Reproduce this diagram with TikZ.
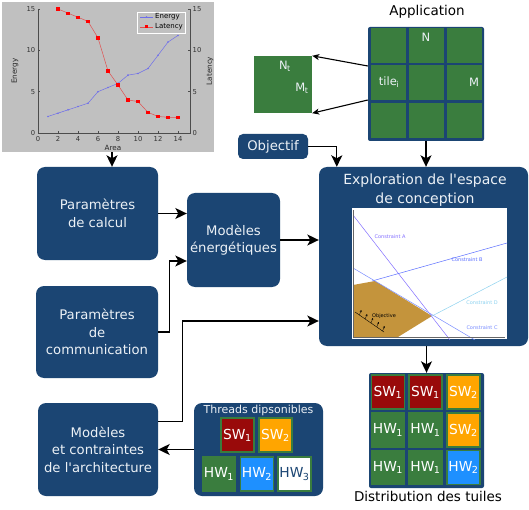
\documentclass[tikz,border=0pt]{standalone}
\usepackage{fontspec}
\setmainfont{DejaVu Sans}
\usetikzlibrary{arrows.meta,calc}
\definecolor{dblue}{RGB}{27,69,115}
\definecolor{boxtext}{RGB}{236,241,246}
\definecolor{cgreen}{RGB}{58,125,62}
\definecolor{cred}{RGB}{153,10,10}
\definecolor{corange}{RGB}{255,165,0}
\definecolor{cblue}{RGB}{30,144,255}
\definecolor{chartgray}{RGB}{192,192,192}
\definecolor{enblue}{RGB}{110,110,235}
\definecolor{latred}{RGB}{225,80,80}
\definecolor{cA}{RGB}{130,110,255}
\definecolor{cB}{RGB}{90,110,255}
\definecolor{cC}{RGB}{120,140,255}
\definecolor{cD}{RGB}{140,210,240}
\definecolor{brown}{RGB}{196,148,60}
\newcommand{\mysub}[1]{\kern-0.5pt\textsubscript{#1}}
\begin{document}
\begin{tikzpicture}[x=1pt,y=-1pt,
  box/.style={fill=dblue, rounded corners=8pt, text=boxtext, align=center, inner sep=0pt,
    font=\fontsize{13.2}{17.5}\selectfont},
  arr/.style={line width=1.3pt, -{Stealth[length=11.5pt,width=11pt,inset=3pt]}},
  cell/.style={minimum width=33pt, minimum height=34pt, inner sep=0pt, draw=cgreen, line width=1.5pt,
    text=white, font=\fontsize{13.8}{14}\selectfont},
  gcell/.style={fill=cgreen, minimum width=35pt, minimum height=35pt, inner sep=0pt},
  lbl/.style={text=black, font=\fontsize{13.5}{16}\selectfont, inner sep=0pt},
  tick/.style={font=\fontsize{6.8}{7}\selectfont, text=black!80, inner sep=0pt},
  clab/.style={font=\fontsize{5}{5}\selectfont, inner sep=0pt}
]
\useasboundingbox (0,0) rectangle (529,510);

% ---------------- chart ----------------
\node[fill=chartgray, minimum width=212pt, minimum height=150pt, inner sep=0pt] (chart) at (108,77) {};
\begin{scope}[shift={(38pt,-133pt)}, x=10pt, y=8.267pt]
  \draw[black!70, line width=0.5pt] (0,15) -- (0,0) -- (15.2,0) -- (15.2,15);
  \foreach \v in {0,5,10,15} {
    \draw[black!70, line width=0.4pt] (0,\v) -- (0.2,\v);
    \draw[black!70, line width=0.4pt] (15.2,\v) -- (15.0,\v);
    \node[tick, anchor=east] at (-0.25,\v) {\v};
    \node[tick, anchor=west] at (15.45,\v) {\v};
  }
  \foreach \v in {0,2,...,14} {
    \draw[black!70, line width=0.4pt] (\v,0) -- (\v,0.25);
    \node[tick, anchor=north] at (\v,-0.35) {\v};
  }
  \draw[enblue, line width=0.5pt] plot coordinates {(1,2) (2,2.4) (3,2.8) (4,3.2) (5,3.6) (6,5) (7,5.5) (8,6) (9,7) (10,7.2) (11,7.8) (12,9.4) (13,11) (14,11.8)};
  \foreach \p in {(1,2),(2,2.4),(3,2.8),(4,3.2),(5,3.6),(6,5),(7,5.5),(8,6),(9,7),(10,7.2),(11,7.8),(12,9.4),(13,11),(14,11.8)}
    \fill[enblue] \p circle (0.9pt);
  \draw[latred, line width=0.5pt] plot coordinates {(2,15) (3,14.5) (4,14) (5,13.5) (6,11.5) (7,7.5) (8,5.8) (9,4) (10,3.8) (11,2.5) (12,2) (13,1.9) (14,1.9)};
  \foreach \p in {(2,15),(3,14.5),(4,14),(5,13.5),(6,11.5),(7,7.5),(8,5.8),(9,4),(10,3.8),(11,2.5),(12,2),(13,1.9),(14,1.9)}
    \fill[red] \p ++(-1.6pt,-1.6pt) rectangle ++(3.2pt,3.2pt);
\end{scope}
\node[draw=white, line width=0.8pt, fill=chartgray, minimum width=48pt, minimum height=21pt, inner sep=0pt] (legend) at (161,22.5) {};
\draw[enblue, line width=0.5pt] (140,17) -- (153,17);
\fill[enblue] (146.5,17) circle (0.9pt);
\draw[latred, line width=0.5pt] (140,27) -- (153,27);
\fill[red] (145,25.5) rectangle (148,28.5);
\node[font=\fontsize{7}{7}\selectfont, anchor=west, inner sep=0pt] (legE) at (155,17) {Energy};
\node[font=\fontsize{7}{7}\selectfont, anchor=west, inner sep=0pt] (legL) at (155,27) {Latency};
\node[font=\fontsize{7.2}{7}\selectfont, rotate=90, inner sep=0pt, text=black!85] (ylab) at (15,71) {Energy};
\node[font=\fontsize{7.2}{7}\selectfont, rotate=90, inner sep=0pt, text=black!85] (y2lab) at (210,71) {Latency};
\node[font=\fontsize{7.2}{7}\selectfont, inner sep=0pt, text=black!85] (xlab) at (113,148) {Area};

% ---------------- application ----------------
\node[lbl] (apptitle) at (427,12) {Application};
\node[fill=dblue, rounded corners=2pt, minimum width=116pt, minimum height=114pt, inner sep=0pt] (app) at (426,84) {};
\foreach \cx [count=\i] in {388.5,426.5,464.5}
  \foreach \cy [count=\j] in {45.5,83,121}
    \node[gcell] (app-\j-\i) at (\cx,\cy) {};
\node[text=boxtext, font=\fontsize{11.5}{12}\selectfont, inner sep=0pt] (appN) at (426,37) {N};
\node[text=boxtext, font=\fontsize{11.5}{12}\selectfont, inner sep=0pt] (appT) at (389,82) {tile\mysub{i}};
\node[text=boxtext, font=\fontsize{11.5}{12}\selectfont, inner sep=0pt] (appM) at (474,82) {M};

\node[fill=cgreen, minimum width=58pt, minimum height=57pt, inner sep=0pt] (tile) at (283,84.5) {};
\node[text=boxtext, font=\fontsize{11.5}{12}\selectfont, inner sep=0pt] (tileN) at (285,66) {N\mysub{t}};
\node[text=boxtext, font=\fontsize{11.5}{12}\selectfont, inner sep=0pt] (tileM) at (302,88) {M\mysub{t}};

\node[box, rounded corners=5pt, minimum width=70pt, minimum height=25pt] (obj) at (273,146.5) {Objectif};

% ---------------- main boxes ----------------
\node[box, minimum width=121pt, minimum height=93pt] (calc) at (97.5,213.5) {Paramètres\\de calcul};
\node[box, minimum width=93pt, minimum height=94pt] (mod) at (233.5,240) {Modèles\\énergétiques};
\node[box, minimum width=122pt, minimum height=92pt] (comm) at (97,332) {Paramètres\\de\\communication};
\node[box, minimum width=120pt, minimum height=93pt] (archi) at (98,449.5) {Modèles\\et contraintes\\de l\textquotesingle architecture};

% ---------------- exploration ----------------
\node[box, minimum width=209pt, minimum height=179pt] (explo) at (423.5,256.5) {};
\node[text=boxtext, align=center, inner sep=0pt, font=\fontsize{14}{19}\selectfont] (explotitle) at (425,190) {Exploration de l\textquotesingle espace\\de conception};
\node[fill=white, minimum width=155pt, minimum height=131pt, inner sep=0pt] (dse) at (429.5,273.5) {};
\begin{scope}
  \clip (352,208) rectangle (507,339);
  \fill[brown] (353,285) -- (375,281) -- (432,316) -- (398,337) -- (353,337) -- cycle;
  \draw[cA, line width=0.5pt] (353,215) -- (450,340);
  \draw[cB, line width=0.5pt] (372,281) -- (507,243);
  \draw[cC, line width=0.5pt] (353,268) -- (475,340);
  \draw[cD, line width=0.5pt] (432,316) -- (507,277);
  \draw[black!60, line width=0.4pt] (353,210) -- (353,337) -- (505,337);
  \draw[black, line width=0.4pt] (355,312) -- (384,332);
  \foreach \t in {0.15,0.35,0.55,0.75,0.95}
    \draw[black, line width=0.3pt, -{Stealth[length=2pt,width=2pt]}] ($(355,312)!\t!(384,332)$) -- ++(2,-5);
\end{scope}
\node[clab, text=cA] (labA) at (390,237) {Constraint A};
\node[clab, text=cB] (labB) at (467,260) {Constraint B};
\node[clab, text=cD] (labD) at (482,303) {Constraint D};
\node[clab, text=cC] (labC) at (482,328) {Constraint C};
\node[clab, text=black] (labO) at (384,316) {Objective};

% ---------------- threads ----------------
\node[box, minimum width=129pt, minimum height=93pt] (threads) at (258.5,449.5) {};
\node[text=boxtext, inner sep=0pt, font=\fontsize{11}{12}\selectfont] (thtitle) at (258.5,410) {Threads dipsonibles};
\node[cell, fill=cred] (tSW1) at (237.5,435) {SW\mysub{1}};
\node[cell, fill=corange] (tSW2) at (275.5,435) {SW\mysub{2}};
\node[cell, fill=cgreen] (tHW1) at (219,474) {HW\mysub{1}};
\node[cell, fill=cblue] (tHW2) at (257,474) {HW\mysub{2}};
\node[cell, fill=white, text=dblue] (tHW3) at (294.5,474) {HW\mysub{3}};

% ---------------- distribution ----------------
\node[fill=dblue, rounded corners=2pt, minimum width=115pt, minimum height=115pt, inner sep=0pt] (dist) at (426.5,430.5) {};
\node[cell, fill=cred] (d11) at (388,392) {SW\mysub{1}};
\node[cell, fill=cred] (d12) at (425.5,392) {SW\mysub{1}};
\node[cell, fill=corange] (d13) at (463.5,392) {SW\mysub{2}};
\node[cell, fill=cgreen] (d21) at (388,430) {HW\mysub{1}};
\node[cell, fill=cgreen] (d22) at (425.5,430) {HW\mysub{1}};
\node[cell, fill=corange] (d23) at (463.5,430) {SW\mysub{2}};
\node[cell, fill=cgreen] (d31) at (388,467.5) {HW\mysub{1}};
\node[cell, fill=cgreen] (d32) at (425.5,467.5) {HW\mysub{1}};
\node[cell, fill=cblue] (d33) at (463.5,467.5) {HW\mysub{2}};
\node[lbl] (disttitle) at (428,496) {Distribution des tuiles};

% ---------------- connectors ----------------
\coordinate (ca) at ($(chart.south)+(4,0)$);
\draw[arr] (ca) -- (ca |- calc.north);
\draw[arr] (app.south) -- (app.south |- explo.north);
\draw[arr] (obj.east) -| ($(explo.north west)+(18,0)$);
\draw[line width=1.1pt, -{Stealth[length=7pt,width=6pt,inset=2pt]}] ($(app.west)+(0,-18)$) -- (tile.north east);
\draw[line width=1.1pt, -{Stealth[length=7pt,width=6pt,inset=2pt]}] ($(app.west)+(0,16)$) -- (tile.south east);
\draw[arr] (calc.east) -- (calc.east -| mod.west);
\draw[arr] (comm.east) -- ++(11,0) |- ($(mod.west)+(0,21)$);
\draw[arr] (mod.east) -- (mod.east -| explo.west);
\draw[arr] ($(archi.east)+(0,-28)$) -- ++(24,0) |- ($(explo.west)+(0,64.5)$);
\draw[arr] (threads.west) -- (archi.east);
\draw[arr] (explo.south -| dist.north) -- (dist.north);
\end{tikzpicture}
\end{document}
